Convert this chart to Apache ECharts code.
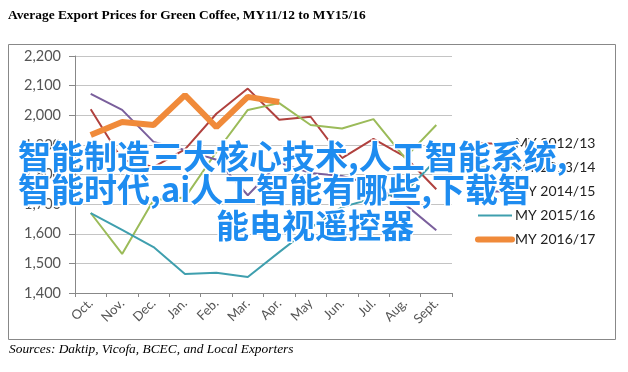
<!DOCTYPE html>
<html><head><meta charset="utf-8">
<script src="https://cdn.jsdelivr.net/npm/echarts@6/dist/echarts.min.js"></script>
<style>html,body{margin:0;padding:0;background:#fff}#c{width:628px;height:372px}</style>
</head><body><div id="c"></div>
<script>
var categories = ['Oct.','Nov.','Dec.','Jan.','Feb.','Mar.','Apr.','May','Jun.','Jul.','Aug.','Sept.'];
var seriesNames = ['MY 2012/13','MY 2013/14','MY 2014/15','MY 2015/16','MY 2016/17'];
var my1213 = [2020,1850,1825,1885,2005,2090,1985,1995,1855,1920,1860,1750];
var my1314 = [1670,1532,1714,1722,1876,2018,2041,1967,1955,1987,1856,1967];
var my1415 = [2072,2018,1910,1883,1850,1730,1840,1805,1795,1765,1700,1612];
var my1516 = [1670,1613,1555,1464,1468,1454,1538,1620,1690,1720,1740,1850];
var my1617 = [1933,1977,1967,2068,1960,2062,2045];
var yTicks = [1400,2200,100];
var titleText = 'Average Export Prices for Green Coffee, MY11/12 to MY15/16';
var sourceText = 'Sources: Daktip, Vicofa, BCEC, and Local Exporters';
var overlayLines = ['智能制造三大核心技术,人工智能系统,', '智能时代,ai人工智能有哪些,下载智', '能电视遥控器'];

var colors = ['#b0413e','#9bbb59','#7a5f9c','#3f9fae','#f08a3a'];
var widths = [2,2,2,2,6];
var datas = [my1213,my1314,my1415,my1516,my1617];

var chart = echarts.init(document.getElementById('c'));
var series = datas.map(function(d,i){
  return {name: seriesNames[i], type:'line', data:d, showSymbol:false, symbol:'none',
    lineStyle:{color:colors[i], width:widths[i]}, itemStyle:{color:colors[i]}, z: 2+i, silent:true};
});
var fmt = function(v){return String(v).replace(/\B(?=(\d{3})+(?!\d))/g, ',');};
var legendGraphics = [];
seriesNames.forEach(function(n,i){
  var y = 143.5 + i*24;
  legendGraphics.push({type:'line', shape:{x1:478, y1:y, x2:512, y2:y}, style:{stroke:colors[i], lineWidth:widths[i], lineCap:widths[i]>2?'round':'butt'}, silent:true, z:5});
  legendGraphics.push({type:'text', x:515, y:y, style:{text:n, font:'14px Lato', fill:'#222', textVerticalAlign:'middle'}, silent:true, z:5});
});
var ovFont = 'bold 33px "Noto Sans CJK SC"';
chart.setOption({
  animation:false,
  title:{text:titleText, left:8, top:9, padding:0, textStyle:{fontFamily:'Liberation Serif', fontWeight:'bold', fontSize:13.4, color:'#000'}},
  grid:{left:75, right:176, top:56, bottom:79},
  xAxis:{type:'category', data:categories, boundaryGap:true,
    axisLine:{lineStyle:{color:'#888', width:1}},
    axisTick:{show:true, length:4, interval:0, lineStyle:{color:'#888'}},
    axisLabel:{rotate:45, interval:0, fontFamily:'Lato', fontSize:13, color:'#555', margin:8}},
  yAxis:{type:'value', min:yTicks[0], max:yTicks[1], interval:yTicks[2],
    axisLine:{show:true, lineStyle:{color:'#888'}},
    axisTick:{show:true, length:6, lineStyle:{color:'#888'}},
    splitLine:{lineStyle:{color:'#c4c4c4'}},
    axisLabel:{formatter:fmt, fontFamily:'Lato', fontSize:14.5, color:'#555', margin:14}},
  series:series,
  graphic:[
    {type:'rect', shape:{x:8.5, y:44.5, width:607, height:295}, style:{fill:'none', stroke:'#888', lineWidth:1}, z:-1, silent:true},
    {type:'text', left:9, top:343, style:{text:sourceText, font:'italic 13.4px "Liberation Serif"', fill:'#000'}, silent:true}
  ].concat(legendGraphics).concat([
    {type:'text', x:18, y:156, style:{text:overlayLines[0], font:ovFont, fill:'#1e8cf0', stroke:'#fff', lineWidth:3, textVerticalAlign:'middle'}, z:100, silent:true},
    {type:'text', x:18, y:189, style:{text:overlayLines[1], font:ovFont, fill:'#1e8cf0', stroke:'#fff', lineWidth:3, textVerticalAlign:'middle'}, z:100, silent:true},
    {type:'text', x:315, y:225, style:{text:overlayLines[2], font:ovFont, fill:'#1e8cf0', stroke:'#fff', lineWidth:3, textAlign:'center', textVerticalAlign:'middle'}, z:100, silent:true}
  ])
});
</script></body></html>
